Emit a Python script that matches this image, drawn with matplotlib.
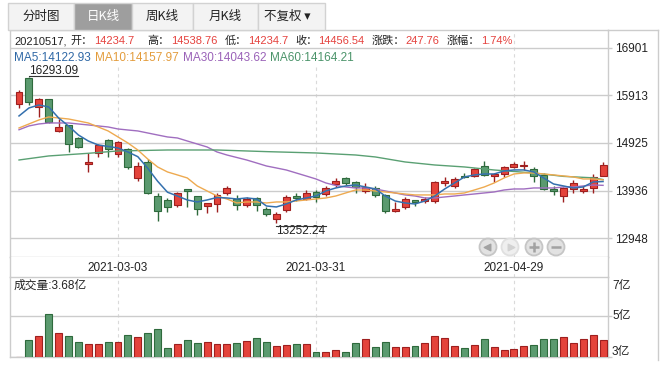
import numpy as np
import matplotlib
matplotlib.use("Agg")
import matplotlib.pyplot as plt
from matplotlib.patches import Rectangle
from matplotlib.lines import Line2D

# daily K data, 2021-02-10 .. 2021-05-17
opens = np.array([15736, 16280, 15680, 15834, 15181, 15293, 15023, 14488, 14723, 14981,
                  14690, 14794, 14191, 14524, 13816, 13739, 13635, 13962, 13816, 13615,
                  13656, 13879, 13754, 13635, 13775, 13546, 13350, 13531, 13822, 13754,
                  13900, 13858, 14066, 14191, 14120, 13933, 13983, 13843, 13517, 13588,
                  13739, 13725, 13725, 14099, 14037, 14245, 14239, 14446, 14232, 14280,
                  14432, 14453, 14378, 14259, 13962, 13829, 13962, 13933, 13995, 14234.7])
highs = np.array([16027, 16293.09, 15867, 15850, 15424, 15300, 15040, 14723, 14905, 15015,
                  14960, 14810, 14530, 14586, 13879, 13788, 13912, 13975, 13830, 13680,
                  13879, 14031, 13843, 13808, 13808, 13600, 13490, 13843, 13891, 13947,
                  13947, 14031, 14191, 14224, 14140, 14087, 14031, 13860, 13704, 13796,
                  13739, 13808, 14130, 14224, 14224, 14307, 14398, 14557, 14294, 14446,
                  14530, 14550, 14432, 14300, 14031, 14016, 14155, 14031, 14280, 14538.76])
lows = np.array([15647, 15715, 15472, 15341, 15160, 14744, 14810, 14328, 14634, 14640,
                 14627, 14378, 14141, 13870, 13309, 13496, 13588, 13600, 13427, 13462,
                 13496, 13843, 13531, 13600, 13517, 13406, 13252.24, 13496, 13725, 13740,
                 13704, 13822, 14016, 14051, 13879, 13891, 13796, 13476, 13496, 13546,
                 13615, 13683, 13683, 14031, 13995, 14191, 14224, 14230, 14120, 14212,
                 14398, 14363, 14120, 13950, 13843, 13704, 13891, 13879, 13891, 14234.7])
closes = np.array([15980, 15784, 15834, 15356, 15252, 14898, 14848, 14530, 14877, 14794,
                   14940, 14432, 14446, 13879, 13504, 13588, 13879, 13933, 13546, 13671,
                   13843, 13983, 13635, 13754, 13635, 13442, 13448, 13796, 13787, 13891,
                   13808, 13995, 14141, 14099, 14016, 14016, 13843, 13517, 13546, 13754,
                   13704, 13754, 14120, 14134, 14170, 14224, 14378, 14259, 14280, 14420,
                   14481, 14467, 14239, 13962, 13933, 13983, 14087, 13962, 14208.78, 14456.54])
volume = np.array([2.77, 3.68, 3.90, 5.11, 4.07, 3.90, 3.57, 3.46, 3.46, 3.57,
                   3.57, 3.96, 3.85, 4.07, 4.29, 3.24, 3.46, 3.68, 3.52, 3.57,
                   3.46, 3.46, 3.52, 3.63, 3.79, 3.57, 3.35, 3.41, 3.46, 3.46,
                   3.02, 3.02, 3.13, 3.02, 3.52, 3.74, 3.30, 3.57, 3.30, 3.30,
                   3.35, 3.52, 3.90, 3.79, 3.35, 3.24, 3.41, 3.74, 3.30, 3.13,
                   3.19, 3.35, 3.41, 3.74, 3.74, 3.85, 3.52, 3.74, 3.96, 3.68])  # 亿

ma5 = [15487, 15653, 15715, 15674, 15445, 15279, 15091, 14966, 14883, 14852,
       14821, 14738, 14640, 14400, 14130, 13900, 13822, 13739, 13698, 13739,
       13791, 13781, 13760, 13781, 13760, 13614, 13594, 13656, 13739, 13781,
       13822, 13927, 13989, 14031, 14051, 14010, 13968, 13822, 13718, 13677,
       13656, 13718, 13822, 13968, 14093, 14218, 14260, 14280, 14280, 14343,
       14364, 14364, 14322, 14197, 14072, 14031, 13989, 14010, 14114, 14122.93]
ma10 = [15237, 15320, 15403, 15466, 15445, 15424, 15383, 15341, 15258, 15175,
        15050, 14925, 14779, 14592, 14426, 14322, 14260, 14197, 14031, 13927,
        13822, 13760, 13677, 13698, 13698, 13677, 13698, 13698, 13718, 13739,
        13760, 13781, 13822, 13885, 13947, 13947, 13927, 13906, 13885, 13864,
        13844, 13844, 13844, 13864, 13864, 13885, 13947, 14010, 14093, 14197,
        14280, 14301, 14301, 14280, 14260, 14239, 14218, 14176, 14176, 14157.97]
ma30 = [15200, 15279, 15320, 15341, 15341, 15341, 15320, 15300, 15279, 15258,
        15216, 15195, 15175, 15133, 15091, 15050, 15029, 14966, 14904, 14842,
        14738, 14675, 14623, 14571, 14509, 14446, 14405, 14363, 14301, 14239,
        14176, 14093, 14041, 14010, 13989, 13989, 13968, 13927, 13885, 13844,
        13822, 13781, 13781, 13802, 13822, 13844, 13864, 13885, 13906, 13947,
        13968, 13968, 13989, 13989, 13989, 14010, 14010, 14031, 14051, 14043.62]
ma60_idx = [0, 3, 7, 10, 15, 20, 25, 30, 34, 36, 39, 42, 45, 48, 52, 55, 58, 59]
ma60 = [14571, 14655, 14710, 14759, 14779, 14779, 14745, 14717, 14675, 14634,
        14530, 14467, 14426, 14363, 14301, 14230, 14200, 14164.21]

date_idx = [10, 30, 50]
date_labels = ["2021-03-03", "2021-03-31", "2021-04-29"]
price_ticks = [12948, 13936, 14925, 15913, 16901]
vol_ticks = [7, 5, 3]
last_date = "20210517"
tabs = ["分时图", "日K线", "周K线", "月K线", "不复权 ▾"]

RED, DRED = "#e4433b", "#9e1f1f"
GREEN, DGREEN = "#5b9a6f", "#2e6a3c"
GRID = "#cccccc"
TXT = "#222222"
TRED = "#e5413d"
MA_COLORS = ["#3470ae", "#eeaa50", "#a06ec0", "#5aa073"]
MA_TEXT = ["#2f68a6", "#e39c3c", "#9a62b8", "#4b946a"]

plt.rcParams["font.family"] = ["Liberation Sans", "Noto Sans CJK SC", "DejaVu Sans"]

W, H = 667, 369


def box(x0, y0, x1, y1):
    return [x0 / W, 1 - y1 / H, (x1 - x0) / W, (y1 - y0) / H]


fig = plt.figure(figsize=(W / 100, H / 100), dpi=100)
ax = fig.add_axes(box(10, 30, 608, 257))
axd = fig.add_axes(box(10, 257, 608, 277))
axv = fig.add_axes(box(10, 277, 608, 357))

x = np.arange(len(opens))
up = closes >= opens
face = np.where(up, RED, GREEN)
edge = np.where(up, DRED, DGREEN)

# candles
ax.vlines(x, lows, highs, colors=edge, lw=1, zorder=3)
body = np.maximum(np.abs(closes - opens), 22)
ax.bar(x, body, bottom=np.minimum(opens, closes), width=0.7, color=face,
       edgecolor=edge, linewidth=0.8, zorder=4)

ax.plot(x, ma30, color=MA_COLORS[2], lw=1, zorder=5)
ax.plot(ma60_idx, ma60, color=MA_COLORS[3], lw=1, zorder=5)
ax.plot(x, ma10, color=MA_COLORS[1], lw=1, zorder=5)
ax.plot(x, ma5, color=MA_COLORS[0], lw=1.1, zorder=5)

xlim = (-0.91, 59.5)
for a in (ax, axd, axv):
    a.set_xlim(*xlim)
    a.set_xticks([])
    for s in a.spines.values():
        s.set_color(GRID)
        s.set_linewidth(1)
    for i in date_idx:
        a.axvline(i, color="#dadada", lw=0.8, ls=(0, (3, 3)), zorder=0.2)

ax.set_ylim(12553, 17275)
ax.yaxis.tick_right()
ax.set_yticks(price_ticks)
ax.set_yticklabels([str(t) for t in price_ticks])
ax.tick_params(axis="y", length=3, width=1, color=GRID, labelsize=8.5,
               labelcolor=TXT, pad=2)
ax.grid(axis="y", color=GRID, lw=1)
ax.set_axisbelow(True)
# background behind the info rows
ax.add_patch(Rectangle((0, (257 - 66) / 227), (512 - 10) / 598, 1, transform=ax.transAxes,
                       facecolor="white", edgecolor="none", zorder=0.4))

# date band
axd.set_ylim(0, 1)
axd.set_yticks([])
axd.spines["top"].set_visible(False)
axd.spines["bottom"].set_visible(False)
for i, lab in zip(date_idx, date_labels):
    axd.text(i, 0.45, lab, ha="center", va="center", fontsize=8.5, color=TXT)

# volume
vbase, vtop = 2.75, 7.15
axv.bar(x, volume - vbase, bottom=vbase, width=0.7, color=face, edgecolor=edge,
        linewidth=0.8, zorder=3)
axv.set_ylim(vbase, vtop)
axv.yaxis.tick_right()
axv.set_yticks([vbase, 5])
axv.tick_params(axis="y", length=3, width=1, color=GRID, labelright=False)
axv.grid(axis="y", color=GRID, lw=1)
axv.set_axisbelow(True)
for v, va in zip(vol_ticks, ["top", "center", "center"]):
    axv.text(1 + 4 / 598, v, f"{v}亿", transform=axv.get_yaxis_transform(),
             ha="left", va=va, fontsize=8.5, color=TXT)
axv.text(4 / 598, 0.8875, f"成交量:{volume[-1]:.2f}亿", transform=axv.transAxes,
         ha="left", va="center", fontsize=8.5, color=TXT)

# outer frame pieces
fig.add_artist(Line2D([608 / W, 658 / W], [1 - 30 / H] * 2, color=GRID, lw=1))
fig.add_artist(Line2D([658 / W] * 2, [1 - 30 / H, 1 - 360 / H], color=GRID, lw=1))

# tabs
tab_edges = [8, 74, 132, 193, 258, 325]
for k, lab in enumerate(tabs):
    x0, x1 = tab_edges[k], tab_edges[k + 1]
    sel = k == 1
    fig.add_artist(Rectangle((x0 / W, 1 - 30 / H), (x1 - x0) / W, 27 / H,
                             transform=fig.transFigure,
                             facecolor="#9e9e9e" if sel else "#f3f3f3",
                             edgecolor="#d2d2d2", lw=1))
    fig.text((x0 + x1) / 2 / W - (4 / W if k == 4 else 0), 1 - 16.5 / H, lab,
             ha="center", va="center", fontsize=9,
             color="white" if sel else TXT,
             family=["Noto Sans CJK SC", "DejaVu Sans"])

# nav buttons
bx = [(488 - 10) / 598, (510 - 10) / 598, (534 - 10) / 598, (556 - 10) / 598]
by = [(257 - 247) / 227] * 4
ax.scatter(bx, by, s=150, c=["#e2e2e2", "#efefef", "#e2e2e2", "#e2e2e2"],
           edgecolors=["#c6c6c6", "#e0e0e0", "#c6c6c6", "#c6c6c6"], linewidths=1.3,
           transform=ax.transAxes, zorder=6, clip_on=False)
ax.scatter([bx[0] - 0.002], [by[0]], s=22, marker="<", c="#a2a2a2", transform=ax.transAxes, zorder=7)
ax.scatter([bx[1] + 0.002], [by[1]], s=22, marker=">", c="#d2d2d2", transform=ax.transAxes, zorder=7)
ax.scatter([bx[2]], [by[2]], s=45, marker="+", c="#a2a2a2", linewidths=1.8, transform=ax.transAxes, zorder=7)
ax.scatter([bx[3]], [by[3]], s=45, marker="_", c="#a2a2a2", linewidths=1.8, transform=ax.transAxes, zorder=7)

# high / low labels
imax, imin = int(np.argmax(highs)), int(np.argmin(lows))
hi_t = ax.annotate(f"{highs[imax]:.2f}", xy=(imax, highs[imax]), xytext=(0, 0),
                   textcoords="offset points", ha="left", va="bottom",
                   fontsize=8.5, color=TXT, zorder=7)
lo_t = ax.annotate(f"{lows[imin]:.2f}", xy=(imin, lows[imin]), xytext=(0, -1.5),
                   textcoords="offset points", ha="left", va="top",
                   fontsize=8.5, color=TXT, zorder=7)

r = fig.canvas.get_renderer()
inv = ax.transData.inverted()
bb = hi_t.get_window_extent(r)
(ux0, uy), (ux1, _) = inv.transform([(bb.x0, bb.y0 + 1.5), (bb.x1, bb.y0 + 1.5)])
ax.plot([ux0, ux1], [uy, uy], color="#333333", lw=0.8, zorder=7)
bb = lo_t.get_window_extent(r)
(ox0, oy), (ox1, _) = inv.transform([(bb.x0, bb.y1 - 0.5), (bb.x1, bb.y1 - 0.5)])
ax.plot([ox0, ox1], [oy, oy], color="#333333", lw=0.8, zorder=7)


# info rows
def info_row(parts, base_px, size):
    xp = 14
    for s, c, gap in parts:
        xp += gap
        t = fig.text(xp / W, 1 - base_px / H, s, color=c, fontsize=size,
                     ha="left", va="baseline")
        xp += t.get_window_extent(r).width


chg = closes[-1] - closes[-2]
row1 = [(last_date + ",", TXT, 0), ("开：", TXT, 4), (f"{opens[-1]:g}", TRED, 1),
        ("高：", TXT, 14), (f"{highs[-1]:.2f}", TRED, 1),
        ("低：", TXT, 7), (f"{lows[-1]:g}", TRED, 1),
        ("收：", TXT, 7), (f"{closes[-1]:.2f}", TRED, 1),
        ("涨跌：", TXT, 7), (f"{chg:.2f}", TRED, 1),
        ("涨幅：", TXT, 7), (f"{chg / closes[-2] * 100:.2f}%", TRED, 1)]
info_row(row1, 44, 8)

last_ma = [ma5[-1], ma10[-1], ma30[-1], ma60[-1]]
row2 = [(f"MA{n}:{v:.2f}", c, 0 if k == 0 else 4)
        for k, (n, v, c) in enumerate(zip([5, 10, 30, 60], last_ma, MA_TEXT))]
info_row(row2, 61, 8.5)

fig.savefig("out.png", dpi=100)
